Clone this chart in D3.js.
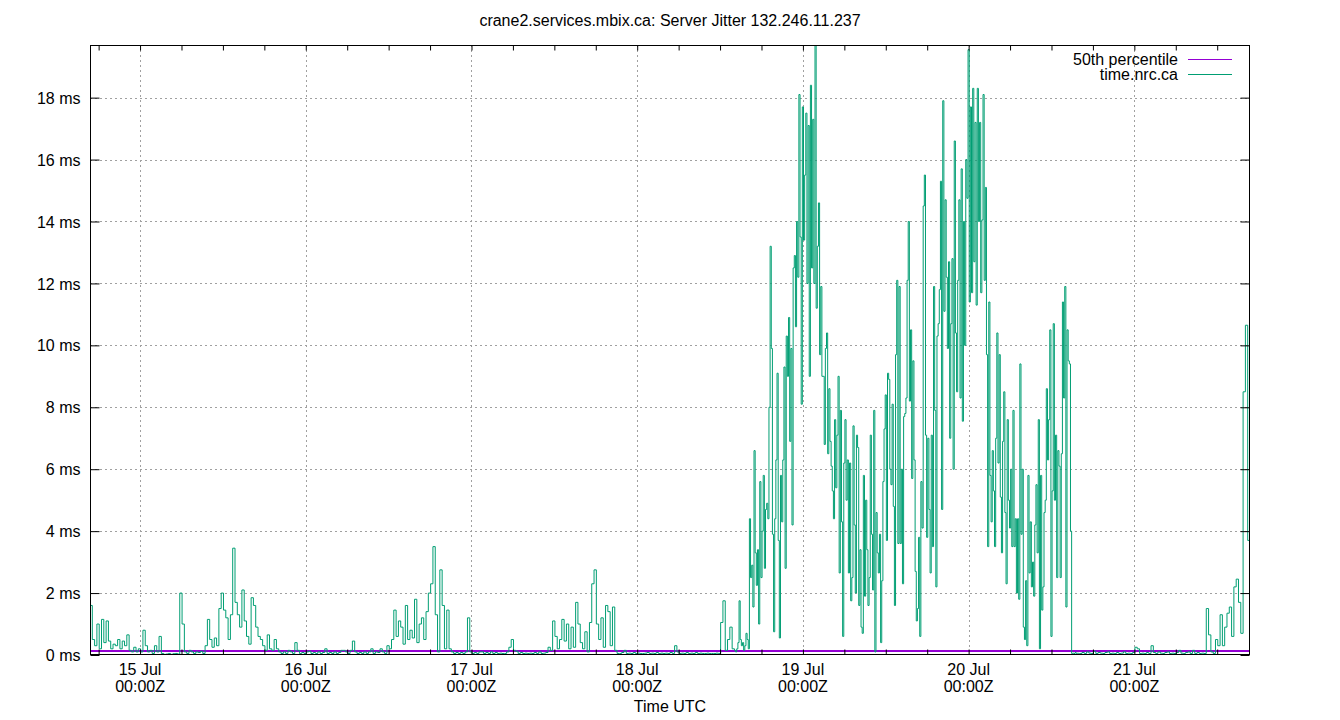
<!DOCTYPE html>
<html><head><meta charset="utf-8">
<script src="https://cdn.jsdelivr.net/npm/d3@7"></script>
<style>
body{margin:0;background:#fff}
text{font-family:"Liberation Sans",Arial,sans-serif;font-size:16px;fill:#000}
</style>
</head><body>
<svg id="c" width="1340" height="720"></svg>
<script>
const chartTitle = "crane2.services.mbix.ca: Server Jitter 132.246.11.237";
const xAxisTitle = "Time UTC";
const seriesNames = ["50th percentile", "time.nrc.ca"];

// time.nrc.ca jitter (ms), quiet period: one value every 20 minutes
const quietStart = "2024-07-14T16:45:00Z", quietStep = 20;
const jitterQuiet = [
1.6,0.5,0.3,1.0,0.2,1.15,0.4,1.1,0.45,0.2,
0.35,0.3,0.5,0.2,0.45,0.3,0.65,0.15,0.1,0.25,
0.1,0.2,0.1,0.8,0.3,0.1,0.15,0.05,0.3,0.1,
0.6,0.05,0.02,0.03,0.05,0.02,0.04,0.05,0.03,2.0,
1.0,0.1,0.05,0.15,0.1,0.05,0.1,0.08,0.12,0.05,
0.3,1.15,0.5,0.25,0.55,0.3,1.5,2.0,1.45,1.2,
0.5,1.3,3.45,1.7,1.3,0.9,2.1,1.1,0.6,0.35,
1.85,1.6,0.9,0.6,0.5,0.3,0.15,0.65,0.2,0.15,
0.5,0.2,0.1,0.05,0.1,0.05,0.15,0.1,0.05,0.4,
0.15,0.05,0.08,0.05,0.1,0.12,0.05,0.08,0.05,0.1,
0.05,0.08,0.2,0.05,0.08,0.05,0.1,0.05,0.08,0.15,
0.15,0.1,0.05,0.15,0.45,0.1,0.05,0.08,0.05,0.1,
0.05,0.1,0.2,0.05,0.1,0.08,0.2,0.1,0.05,0.3,
0.2,0.5,1.45,0.6,1.1,0.9,0.35,1.6,0.5,0.8,
0.55,1.8,0.4,1.0,1.2,0.5,1.4,2.0,2.3,3.5,
1.3,0.1,2.75,1.6,0.2,1.45,0.2,0.1,0.05,0.08,
0.05,0.08,0.05,0.1,1.2,0.1,0.05,0.08,0.05,0.1,
0.1,0.05,0.08,0.05,0.1,0.05,0.08,0.05,0.06,0.05,
0.05,0.1,0.25,0.5,0.15,0.12,0.05,0.08,0.05,0.06,
0.05,0.06,0.05,0.08,0.05,0.1,0.05,0.06,0.08,0.25,
0.15,1.1,0.6,0.2,0.5,1.15,0.45,1.0,0.2,0.9,
0.25,1.7,1.0,0.4,0.2,0.75,0.1,1.05,2.3,2.75,
1.0,0.5,1.2,0.25,1.6,1.4,0.3,1.55,0.15,0.05,
0.05,0.08,0.15,0.05,0.06,0.05,0.08,0.05,0.06,0.05,
0.05,0.06,0.08,0.05,0.06,0.05,0.08,0.05,0.06,0.05,
0.06,0.05,0.08,0.05,0.3,0.1,0.05,0.06,0.05,0.08,
0.05,0.06,0.05,0.08,0.05,0.06,0.05,0.05,0.06,0.05,
0.05,0.05,0.06,0.05,1.05,1.75,0.15,0.5,0.9,0.2
];
// busy period: one value every 10 minutes
const busyStart = "2024-07-18T14:05:00Z", busyStep = 10;
const jitterBusy = [
0.15,0.1,0.2,0.4,1.75,0.5,0.3,0.4,0.15,0.3,
0.7,0.5,0.2,4.4,2.5,2.9,1.55,6.6,3.3,2.25,
3.4,1.0,5.6,2.5,4.0,5.8,2.8,4.7,4.9,4.4,
8.0,13.2,9.9,3.9,0.75,4.4,6.3,9.1,3.7,0.55,
5.8,4.3,6.3,9.3,2.8,10.3,9.0,10.9,6.9,9.9,
4.2,12.5,12.9,10.6,14.0,12.2,18.1,13.5,8.1,17.7,
13.4,15.5,17.5,12.0,17.1,9.0,18.4,12.5,17.3,12.0,
19.7,11.2,13.2,14.6,9.7,11.9,9.0,9.0,6.8,9.9,
10.4,6.5,8.6,6.9,6.1,5.3,4.4,7.6,5.4,7.1,
9.0,2.65,7.9,4.3,0.6,6.2,7.6,5.0,6.3,2.65,
6.2,1.75,2.5,7.4,4.2,2.0,7.1,6.7,1.6,3.4,
0.9,0.7,5.8,1.9,5.0,3.4,1.6,2.5,7.1,3.9,
2.1,7.9,0.1,4.6,3.3,2.65,3.9,0.4,2.4,5.6,
7.3,8.4,3.7,9.1,8.9,6.0,5.5,8.1,4.8,1.6,
9.7,12.1,3.6,11.9,3.6,6.0,2.3,7.7,7.8,8.3,
12.1,14.0,8.2,10.5,5.7,9.5,6.3,2.7,1.1,1.5,
3.8,0.6,5.6,4.1,14.5,15.5,7.1,3.8,7.0,4.7,
2.65,7.1,3.5,11.9,7.9,2.2,10.3,10.7,11.8,15.3,
4.7,17.9,11.1,14.7,12.2,9.9,12.7,7.0,10.7,12.8,
6.0,16.6,10.4,8.5,12.1,14.7,8.3,15.7,7.55,14.0,
10.0,16.0,14.75,19.55,11.4,17.7,11.7,18.3,12.7,17.2,
11.3,18.3,14.0,17.2,11.7,14.05,18.1,12.1,15.1,9.7,
3.5,11.4,5.8,4.3,6.6,5.3,3.5,7.0,10.4,6.2,
9.7,5.1,3.3,6.9,8.5,4.6,2.3,7.6,5.0,4.1,
6.0,3.5,7.9,3.5,4.4,2.0,4.4,1.8,9.4,3.9,
6.0,0.9,0.5,2.4,0.3,5.8,2.65,4.3,2.2,3.0,
1.9,4.2,5.5,3.3,7.6,0.2,5.8,1.45,2.2,4.6,
5.0,8.6,6.3,7.6,10.5,0.6,5.3,10.7,5.0,7.1,
2.5,6.6,6.1,2.5,6.5,11.4,8.3,11.9,1.55,10.5,
9.5,9.4,4.0,0.05,0.06,0.05,0.08,0.05,0.06,0.05
];
// calm again: one value every 20 minutes
const calmStart = "2024-07-20T16:05:00Z", calmStep = 20;
const jitterCalm = [
0.05,0.08,0.05,0.1,0.06,0.05,0.12,0.05,0.08,0.06,
0.05,0.08,0.1,0.05,0.06,0.05,0.08,0.05,0.06,0.1,
0.05,0.06,0.05,0.08,0.25,0.2,0.05,0.06,0.05,0.08,
0.05,0.3,0.08,0.05,0.1,0.06,0.05,0.08,0.1,0.05,
0.06,0.05,0.08,0.15,0.06,0.05,0.08,0.1,0.05,0.15,
0.05,0.08,0.05,0.06,0.05,1.5,0.65,0.1,0.05,0.5,
0.3,1.3,0.3,0.9,1.35,1.55,0.6,2.2,2.45,1.7,
0.7,8.5,10.65,3.7,10.0
];
const p50Ms = [0.13, 0.13];
const yTickValues = [0, 2, 4, 6, 8, 10, 12, 14, 16, 18];
const xTickTime = "00:00Z";
const colors = ["#9400d3", "#009e73"];

const L = 90, R = 1250, T = 45, B = 655;
const svg = d3.select("#c");

function segment(start, stepMin, vals) {
  const s = new Date(start).getTime();
  return vals.map((v, i) => [new Date(s + i * stepMin * 60000), v]);
}
const series = [].concat(
  segment(quietStart, quietStep, jitterQuiet),
  segment(busyStart, busyStep, jitterBusy),
  segment(calmStart, calmStep, jitterCalm)
);

const x = d3.scaleUtc().domain(d3.extent(series, d => d[0])).range([L, R]);
const y = d3.scaleLinear().domain([0, d3.max(series, d => d[1])]).range([B, T]);

// grid
const grid = svg.append("g").attr("stroke", "#a0a0a0").attr("stroke-width", 1).attr("stroke-dasharray", "2,3");
const days = d3.utcDay.range(x.domain()[0], x.domain()[1]).filter(d => d > x.domain()[0]);
grid.selectAll("line.gx").data(days).join("line")
  .attr("x1", d => Math.round(x(d)) + 0.5).attr("x2", d => Math.round(x(d)) + 0.5)
  .attr("y1", T).attr("y2", B);
grid.selectAll("line.gy").data(yTickValues.filter(v => v > 0)).join("line")
  .attr("x1", L).attr("x2", R)
  .attr("y1", d => Math.round(y(d)) + 0.5).attr("y2", d => Math.round(y(d)) + 0.5);

// title
svg.append("text").attr("x", 670).attr("y", 26).attr("text-anchor", "middle").text(chartTitle);

// clip
svg.append("clipPath").attr("id", "clip").append("rect").attr("x", L).attr("y", T).attr("width", R - L).attr("height", B - T);
const plot = svg.append("g").attr("clip-path", "url(#clip)");

// 50th percentile
const pTimes = x.domain();
plot.append("path")
  .datum(p50Ms.map((v, i) => [pTimes[i], v]))
  .attr("fill", "none").attr("stroke", colors[0]).attr("stroke-width", 1.5)
  .attr("shape-rendering", "crispEdges")
  .attr("d", d3.line().x(d => x(d[0])).y(d => y(d[1])));

// jitter series
plot.append("path")
  .datum(series)
  .attr("fill", "none").attr("stroke", colors[1]).attr("stroke-width", 1)
  .attr("d", d3.line().x(d => x(d[0])).y(d => y(d[1])).curve(d3.curveStepAfter));

// axes
const yl = svg.append("g").attr("transform", `translate(${L + 0.5},0)`)
  .call(d3.axisLeft(y).tickValues(yTickValues).tickSize(-9).tickPadding(10).tickFormat(d => d + " ms"));
const yr = svg.append("g").attr("transform", `translate(${R - 0.5},0)`)
  .call(d3.axisRight(y).tickValues(yTickValues).tickSize(-9).tickFormat(""));
const sixH = d3.utcHour.every(6);
const xb = svg.append("g").attr("transform", `translate(0,${B - 0.5})`)
  .call(d3.axisBottom(x).ticks(sixH).tickSize(-5).tickFormat(""));
const xt = svg.append("g").attr("transform", `translate(0,${T + 0.5})`)
  .call(d3.axisTop(x).ticks(sixH).tickSize(-5).tickFormat(""));
[yl, yr, xb, xt].forEach(g => {
  g.select(".domain").remove();
  g.selectAll("line").attr("stroke", "#000");
  g.selectAll("text").attr("font-size", 16).attr("font-family", '"Liberation Sans",Arial,sans-serif').attr("fill", "#000");
});
yl.selectAll(".tick text").attr("dy", "0.35em");

// x labels
const fmt = d3.utcFormat("%-d %b");
const xl = svg.append("g");
days.forEach(d => {
  xl.append("text").attr("x", x(d)).attr("y", 675).attr("text-anchor", "middle").text(fmt(d));
  xl.append("text").attr("x", x(d)).attr("y", 692).attr("text-anchor", "middle").text(xTickTime);
});
svg.append("text").attr("x", 670).attr("y", 712).attr("text-anchor", "middle").text(xAxisTitle);

// frame
svg.append("rect").attr("x", L + 0.5).attr("y", T + 0.5).attr("width", R - L - 1).attr("height", B - T - 1)
  .attr("fill", "none").attr("stroke", "#000").attr("stroke-width", 1);

// legend
const leg = svg.append("g");
seriesNames.forEach((n, i) => {
  const yy = 59.5 + i * 15;
  leg.append("text").attr("x", 1178).attr("y", yy + 5).attr("text-anchor", "end").text(n);
  leg.append("line").attr("x1", 1188).attr("x2", 1232).attr("y1", yy).attr("y2", yy)
    .attr("stroke", colors[i]).attr("stroke-width", 1).attr("shape-rendering", "crispEdges");
});
</script>
</body></html>
